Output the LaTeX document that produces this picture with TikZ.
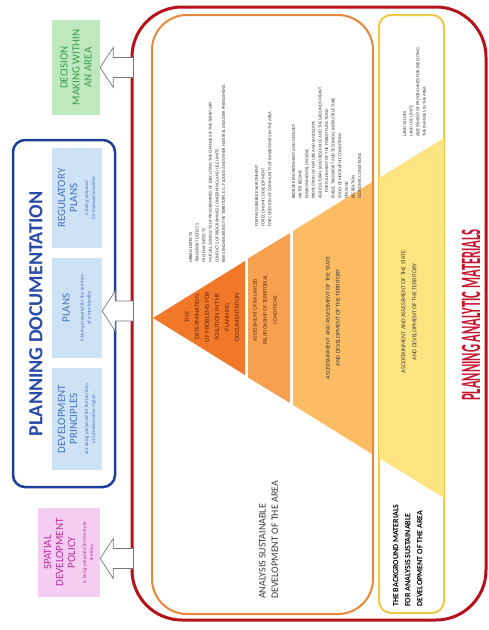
\documentclass[tikz,border=0pt]{standalone}
\usepackage{fontspec}
\setmainfont{Carlito}
\usepackage{graphicx}
\usetikzlibrary{positioning,calc}
\definecolor{framered}{RGB}{181,18,27}
\definecolor{titlered}{RGB}{200,22,48}
\definecolor{frameblue}{RGB}{30,62,155}
\definecolor{titleblue}{RGB}{40,75,168}
\definecolor{boxblue}{RGB}{205,226,245}
\definecolor{txtblue}{RGB}{70,115,190}
\definecolor{boxgreen}{RGB}{190,232,190}
\definecolor{txtgreen}{RGB}{55,160,75}
\definecolor{boxpink}{RGB}{245,205,240}
\definecolor{txtpink}{RGB}{180,50,160}
\definecolor{frameorange}{RGB}{232,135,55}
\definecolor{frameyellow}{RGB}{240,200,70}
\definecolor{bandA}{RGB}{240,120,40}
\definecolor{bandB}{RGB}{246,160,80}
\definecolor{bandC}{RGB}{251,188,100}
\definecolor{bandD}{RGB}{253,228,128}
\definecolor{bandtxt}{RGB}{110,40,15}
\definecolor{listcol}{RGB}{60,60,60}
\definecolor{arrowcol}{RGB}{120,120,120}
\newcommand{\subtxt}[1]{{\fontsize{5}{6}\selectfont\itshape #1}}

\begin{document}
\begin{tikzpicture}[x=1pt,y=-1pt,
  rot/.style={rotate=90,inner sep=0pt,align=center},
  tbox/.style={rot,font=\fontsize{11}{12}\selectfont},
  frame/.style={rounded corners=#1,inner sep=0pt},
  lst/.style={rot,align=left,anchor=north west,text=listcol,font=\fontsize{4.5}{6.6}\selectfont},
  bandlbl/.style={rot,text=bandtxt,font=\fontsize{6.5}{10}\selectfont},
  blockarr/.style={draw=arrowcol,fill=white,line width=0.7pt,line join=miter}]
  \fill[white] (0,0) rectangle (488,630);
  % outer frames
  \node[frame=50,draw=framered,line width=3pt,minimum width=354,minimum height=613] (mat) at (309,313.5) {};
  \node[frame=35,draw=frameorange,line width=2pt,minimum width=221,minimum height=599] (anl) at (262.5,314.5) {};
  \node[frame=12,draw=frameyellow,line width=2pt,minimum width=65,minimum height=598] (bgr) at (411.5,314) {};
  \node[frame=12,draw=frameblue,line width=2.5pt,minimum width=102,minimum height=347] (doc) at (64,313.5) {};
  % pyramid bands
  \fill[bandA] (153,318)--(245,261)--(245,375)--cycle;
  \fill[bandB] (248,258.5)--(290,233)--(290,403)--(248,377.5)--cycle;
  \fill[bandC] (293,231)--(372,182)--(372,454)--(293,405)--cycle;
  \fill[bandD] (379,178)--(444,138)--(444,498)--(379,458)--cycle;
  % titles
  \node[rot,text=titleblue,font=\fontsize{20}{20}\selectfont\bfseries] (doct) at (36,314) {PLANNING DOCUMENTATION};
  \node[rot,text=titlered] (matt) at (471,315) {\scalebox{0.45}[1]{\fontsize{28}{28}\selectfont\bfseries PLANNING ANALYTIC MATERIALS}};
  % boxes on the left
  \node[tbox,fill=boxgreen,text=txtgreen,minimum width=95,minimum height=48] (dec) at (76,67.5) {DECISION\\MAKING WITHIN\\AN AREA};
  \node[tbox,fill=boxblue,text=txtblue,minimum width=100,minimum height=50] (reg) at (77,198)
    {REGULATORY\\PLANS\\[-1pt]\subtxt{is being prepared}\\[-5pt]\subtxt{for imposed localities}};
  \node[tbox,fill=boxblue,text=txtblue,minimum width=100,minimum height=50] (plans) at (77,308)
    {PLANS\\[2pt]\subtxt{is being prepared for the territory}\\[-5pt]\subtxt{of a municipality}};
  \node[tbox,fill=boxblue,text=txtblue,minimum width=102,minimum height=50] (devp) at (77,419)
    {DEVELOPMENT\\PRINCIPLES\\[-1pt]\subtxt{are being prepared for the territory}\\[-5pt]\subtxt{of administrative region}};
  \node[tbox,fill=boxpink,text=txtpink,minimum width=89,minimum height=62] (sdp) at (69,552.5)
    {SPATIAL\\DEVELOPMENT\\POLICY\\[-1pt]\subtxt{is being prepared for the State}\\[-5pt]\subtxt{territory}};
  % arrows from the analytic materials
  \foreach \n/\d in {dec/0,plans/3,sdp/6}{
    \draw[blockarr] ($(\n.south)+(0,\d)$) -- ++(13,-20) -- ++(0,10)
      -- ($(mat.west |- \n.south)+(3,\d-10)$) -- ++(0,20)
      -- ($(\n.south)+(13,\d+10)$) -- ++(0,10) -- cycle;
  }
  % texts in the bands
  \node[bandlbl] (ta) at (212,317) {THE\\DETERMINATION\\OF PROBLEMS FOR\\SOLUTION IN THE\\PLANNING\\DOCUMENTATION};
  \node[bandlbl,font=\fontsize{5.5}{10}\selectfont] (tb) at (265,310) {ASSESSMENT OF BALANCED\\RELATIONSHIP OF TERRITORIAL\\CONDITIONS};
  \node[bandlbl,text=listcol,font=\fontsize{6}{10}\selectfont] (tc) at (333,318) {ASCERTAINMENT AND ASSESSMENT OF THE STATE\\AND DEVELOPMENT OF THE TERRITORY};
  \node[bandlbl,text=listcol,font=\fontsize{6}{11}\selectfont] (td) at (409,312) {ASCERTAINMENT AND ASSESSMENT OF THE STATE\\AND DEVELOPMENT OF THE TERRITORY};
  % lists above the bands
  \node[lst] (la) at (189,263) {URBAN DEFECTS\\TRANSPORT DEFECTS\\HYGIENIC DEFECTS\\
    MUTUAL CONFLICTS OF PROGRAMMES OF EXECUTING THE CHANGES IF THE TERRITORY\\
    CONFLICTS OF PROGRAMMES CONCERNING LAND USE LIMITS\\
    RISKS ENDANGERING THE TERRITORY, E.G. FLOODS AND OTHER NATURAL DISASTER PHENOMENA};
  \node[lst] (lb) at (255,227) {FOR FAVOURABLE ENVIRONMENT\\FOR ECONOMIC DEVELOPMENT\\
    FOR COHESION OF COMMUNITY OF INHABITANTS IN THE AREA};
  \node[lst] (lc) at (292,199) {BEDROCK ENVIRONMENT AND GEOLOGY\\WATER REGIME\\ENVIRONMENTAL HYGIENE\\
    PROTECTION OF NATURE AND LANDSCAPE\\AGRICULTURAL LAND RESOURCE AND THE GROUNDS MEANT\\
    \hspace*{6pt}FOR FULFILMENT OF THE FOREST FUNCTIONS\\PUBLIC TRANSPORT AND TECHNICAL INFRASTRUCTURE\\
    SOCIO-DEMOGRAPHIC CONDITIONS\\HOUSING\\RECREATION\\ECONOMIC CONDITIONS};
  \node[lst] (ld) at (403,137) {LAND VALUES\\LAND USE LIMITS\\ASSESSMENT OF PROGRAMMES FOR EXECUTING\\
    THE CHANGES IN THE AREA};
  % captions at the bottom
  \node[rot,align=left,anchor=north west,text=listcol,font=\fontsize{10}{12.5}\selectfont] (ana) at (259,599)
    {ANALYSIS SUSTAINABLE\\DEVELOPMENT OF THE AREA};
  \node[rot,align=left,anchor=north west,text=black,font=\fontsize{8}{12}\selectfont\bfseries] (bgm) at (393,607)
    {THE BACKGROUND MATERIALS\\FOR ANALYSIS SUSTAINABLE\\DEVELOPMENT OF THE AREA};
\end{tikzpicture}
\end{document}
